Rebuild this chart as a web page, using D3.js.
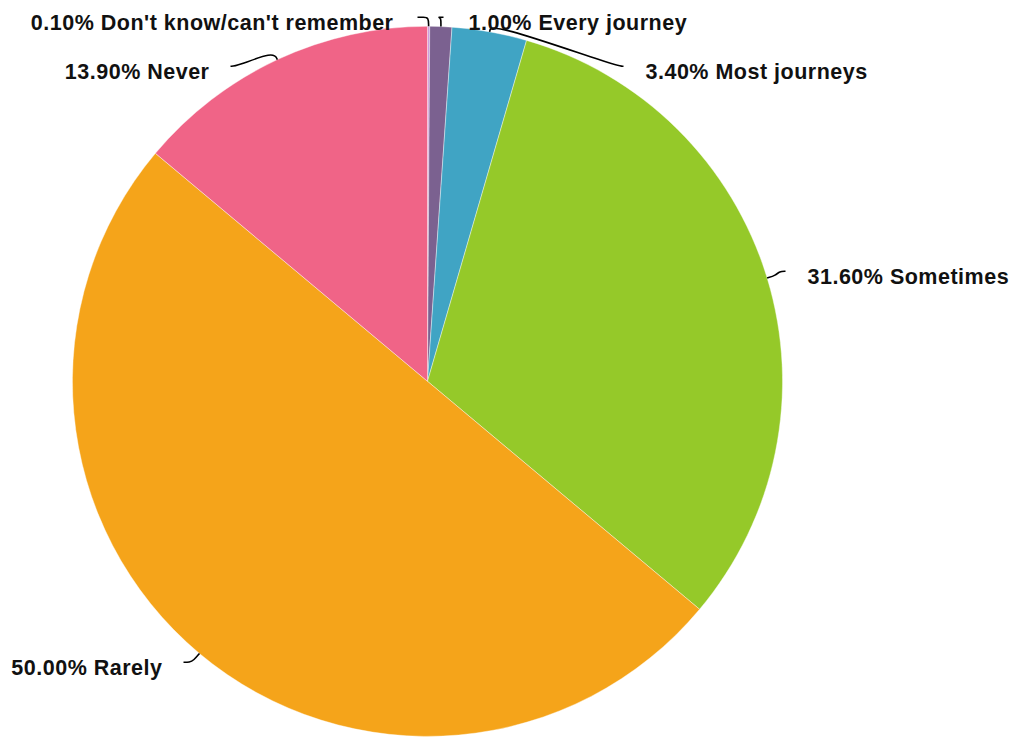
<!DOCTYPE html>
<html>
<head>
<meta charset="utf-8">
<script src="https://cdn.jsdelivr.net/npm/d3@7"></script>
<style>
  html, body { margin: 0; padding: 0; background: #fff; }
  svg { display: block; }
  .lbl { font-family: "Liberation Sans", Arial, Helvetica, sans-serif; font-weight: bold; font-size: 21.5px; letter-spacing: 0.5px; fill: #111; }
</style>
</head>
<body>
<svg id="chart" width="1018" height="739"></svg>
<script>
// Answers, in clockwise order from twelve o'clock
const categories = ["Don't know/can't remember", "Every journey", "Most journeys", "Sometimes", "Rarely", "Never"];
const shares = [0.1, 1.0, 3.4, 31.6, 50.0, 13.9];
const colors = ["#cf9ee0", "#7b6190", "#40a4c4", "#95c929", "#f5a41a", "#f06487"];

// Where each leader line ends, relative to the pie centre, which side its label sits on,
// and the gap between the line end and the label
const leaderEnds = [[-10, -364], [16, -364], [196, -315], [358, -110], [-244, 281], [-197, -315]];
const labelSide = ["end", "start", "start", "start", "end", "end"];
const labelGap = [24, 25, 22, 22, 21, 21];

const width = 1018, height = 739;
const cx = 427.5, cy = 381.3, radius = 355;

const svg = d3.select("#chart");
const g = svg.append("g").attr("transform", `translate(${cx},${cy})`);

const data = categories.map((c, i) => ({
  name: c, value: shares[i], color: colors[i],
  end: leaderEnds[i], side: labelSide[i], gap: labelGap[i]
}));

const pie = d3.pie().value(d => d.value).sort(null);
const arc = d3.arc().innerRadius(0).outerRadius(radius);
const arcs = pie(data);

g.selectAll("path.slice")
  .data(arcs)
  .join("path")
  .attr("class", "slice")
  .attr("d", arc)
  .attr("fill", d => d.data.color)
  .attr("stroke", "#fff")
  .attr("stroke-width", 0.4);

// Leader lines: leave the rim radially, then bend into a short horizontal run
const curve = d3.line().curve(d3.curveBasis);

g.selectAll("path.leader")
  .data(arcs)
  .join("path")
  .attr("class", "leader")
  .attr("fill", "none")
  .attr("stroke", "#000")
  .attr("stroke-width", 1.6)
  .attr("d", d => {
    const mid = (d.startAngle + d.endAngle) / 2;
    const p0 = [Math.sin(mid) * radius, -Math.cos(mid) * radius];
    const p1 = [Math.sin(mid) * (radius + 9), -Math.cos(mid) * (radius + 9)];
    const e = d.data.end;
    const dir = d.data.side === "start" ? 1 : -1;
    const p2 = [e[0] - dir * 6, e[1]];
    return curve([p0, p1, p2, e]);
  });

const fmt = d3.format(".2f");
g.selectAll("text.lbl")
  .data(arcs)
  .join("text")
  .attr("class", "lbl")
  .attr("x", d => d.data.end[0] + (d.data.side === "start" ? d.data.gap : -d.data.gap))
  .attr("y", d => d.data.end[1] + 12.5)
  .attr("text-anchor", d => d.data.side)
  .text(d => `${fmt(d.data.value)}% ${d.data.name}`);
</script>
</body>
</html>
